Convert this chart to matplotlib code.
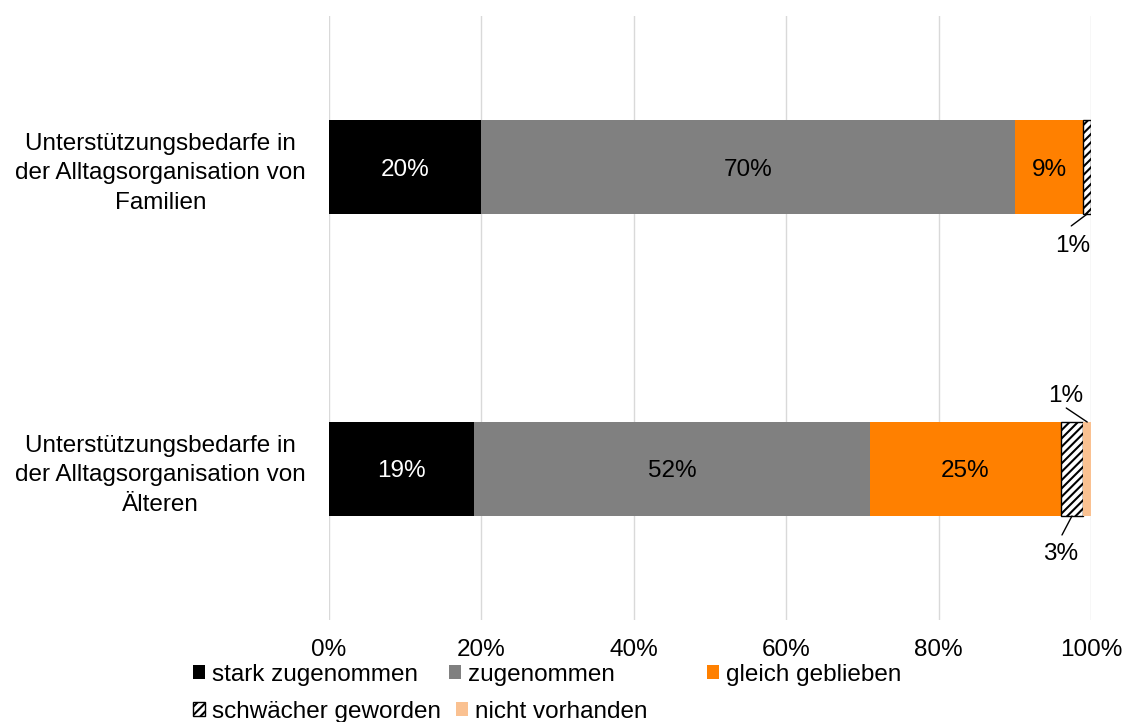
import numpy as np
import matplotlib.pyplot as plt
from matplotlib.patches import Patch

plt.rcParams['font.family'] = ['Liberation Sans', 'DejaVu Sans']
plt.rcParams['hatch.linewidth'] = 1.5

# Kategorien (oben nach unten) und Anteile in Prozent
categories = ['Unterstützungsbedarfe in\nder Alltagsorganisation von\nFamilien',
              'Unterstützungsbedarfe in\nder Alltagsorganisation von\nÄlteren']
series = ['stark zugenommen', 'zugenommen', 'gleich geblieben',
          'schwächer geworden', 'nicht vorhanden']
stark_zugenommen = [20, 19]
zugenommen = [70, 52]
gleich_geblieben = [9, 25]
schwaecher_geworden = [1, 3]
nicht_vorhanden = [0, 1]
x_ticks = [0, 20, 40, 60, 80, 100]

colors = ['#000000', '#808080', '#FF8000', '#FFFFFF', '#FAC191']
hatches = [None, None, None, '////', None]
text_colors = ['white', 'black', 'black', 'black', 'black']

values = np.array([stark_zugenommen, zugenommen, gleich_geblieben,
                   schwaecher_geworden, nicht_vorhanden], dtype=float)

fig = plt.figure(figsize=(11.22, 7.22), dpi=100)
ax = fig.add_axes([0.2932, 0.1413, 0.6792, 0.8365])

y = np.arange(len(categories))
bar_h = 0.311
left = np.zeros(len(categories))
for i, name in enumerate(series):
    ax.barh(y, values[i], left=left, height=bar_h, color=colors[i],
            hatch=hatches[i], edgecolor='black' if hatches[i] else colors[i],
            linewidth=1.0 if hatches[i] else 0, label=name, zorder=3)
    # Beschriftung innerhalb der breiten Segmente
    for j in range(len(categories)):
        v = values[i][j]
        if v >= 5:
            ax.text(left[j] + v / 2, y[j], f'{v:.0f}%', ha='center', va='center_baseline',
                    fontsize=17.5, color=text_colors[i], zorder=4)
    left = left + values[i]

# kleine Segmente: Beschriftung außerhalb mit Führungslinie
# (Reihe, Serie, oben/unten, Linienende-Offset, Text-Offset) in Punkten
small_labels = [(0, 3, 'bottom', (-11.5, -8.6), (-10.8, -20.9)),
                (1, 4, 'top', (-15.1, 10.1), (-15.8, 20.2)),
                (1, 3, 'bottom', (-7.2, -13.7), (-7.9, -25.9))]
starts = np.vstack([np.zeros(len(categories)), np.cumsum(values, axis=0)[:-1]])
for row, s, side, line_off, text_off in small_labels:
    v = values[s][row]
    xm = starts[s][row] + v / 2
    ym = y[row] + (bar_h / 2 if side == 'bottom' else -bar_h / 2)
    ax.annotate('', xy=(xm, ym), xytext=line_off, textcoords='offset points',
                arrowprops=dict(arrowstyle='-', lw=1.0, color='black',
                                shrinkA=0, shrinkB=0), zorder=5)
    ax.annotate(f'{v:.0f}%', xy=(xm, ym), xytext=text_off, textcoords='offset points',
                ha='center', va='center_baseline', fontsize=17.5, zorder=5)

ax.set_xlim(0, 100)
ax.set_ylim(1.5, -0.5)
ax.set_xticks(x_ticks)
ax.set_xticklabels([f'{t}%' for t in x_ticks])
ax.set_yticks(y)
ax.set_yticklabels(categories)
for t in ax.get_yticklabels():
    t.set_multialignment('center')
    t.set_linespacing(1.45)
ax.tick_params(axis='x', length=0, pad=14, labelsize=17.5)
ax.tick_params(axis='y', length=0, pad=16.5, labelsize=17.5)
ax.grid(axis='x', color='#D9D9D9', linewidth=1.0, zorder=0)
ax.set_axisbelow(True)
for sp in ax.spines.values():
    sp.set_visible(False)

# Legende: Excel-artig in zwei Zeilen
legend_pos = [(193, 675), (449, 675), (707, 675), (193, 712), (456, 712)]
for i, name in enumerate(series):
    handle = Patch(facecolor=colors[i], hatch=hatches[i],
                   edgecolor='black' if hatches[i] else colors[i],
                   linewidth=1.0 if hatches[i] else 0)
    px, py = legend_pos[i]
    fig.legend(handles=[handle], labels=[name], loc='center left',
               bbox_to_anchor=(px / 1122, 1 - py / 722), frameon=False,
               fontsize=17.5, handlelength=0.5, handleheight=0.5,
               handletextpad=0.3, borderpad=0, borderaxespad=0)

fig.savefig('out.png', dpi=100)
